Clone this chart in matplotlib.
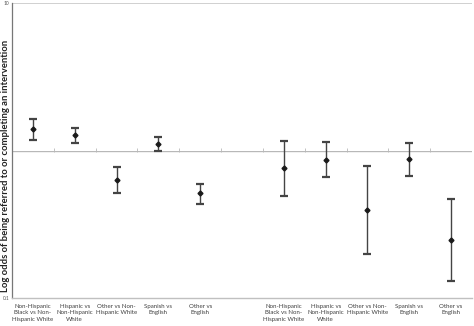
import matplotlib
matplotlib.use("Agg")
import matplotlib.pyplot as plt
import numpy as np

# Odds ratios with 95% confidence limits, two groups of five comparisons
categories = [
    "Non-Hispanic\nBlack vs Non-\nHispanic White",
    "Hispanic vs\nNon-Hispanic\nWhite",
    "Other vs Non-\nHispanic White",
    "Spanish vs\nEnglish",
    "Other vs\nEnglish",
    "",
    "Non-Hispanic\nBlack vs Non-\nHispanic White",
    "Hispanic vs\nNon-Hispanic\nWhite",
    "Other vs Non-\nHispanic White",
    "Spanish vs\nEnglish",
    "Other vs\nEnglish",
]
odds = [1.39, 1.27, 0.634, 1.107, 0.513, None, 0.757, 0.866, 0.393, 0.876, 0.248]
upper = [1.64, 1.43, 0.77, 1.234, 0.595, None, 1.165, 1.14, 0.782, 1.12, 0.471]
lower = [1.17, 1.13, 0.513, 0.997, 0.432, None, 0.49, 0.658, 0.198, 0.672, 0.131]
ytick_values = [0.1, 10]
ytick_labels = ["0.1", "10"]
ylabel = "Log odds of being referred to or completing an intervention"

plt.rcParams["font.family"] = ["Lato", "DejaVu Sans"]

fig = plt.figure(figsize=(4.74, 3.26), dpi=100)
ax = fig.add_axes([12 / 474, 28 / 326, 460 / 474, 295 / 326])

idx = [i for i, v in enumerate(odds) if v is not None]
x = np.array(idx, dtype=float)
y = np.array([odds[i] for i in idx])
yerr = np.array([[odds[i] - lower[i] for i in idx],
                 [upper[i] - odds[i] for i in idx]])

ax.errorbar(x, y, yerr=yerr, fmt="D", color="#1a1a1a", ecolor="#444444",
            elinewidth=1.0, capsize=3.2, capthick=1.6, markersize=2.5)

ax.set_yscale("log")
ax.set_ylim(0.1, 10)
ax.set_xlim(-0.5, len(categories) - 0.5)

ax.set_yticks(ytick_values)
ax.set_yticklabels(ytick_labels)
ax.yaxis.set_minor_locator(matplotlib.ticker.NullLocator())
ax.tick_params(axis="y", length=0, labelsize=3.5, labelcolor="#555555", pad=2)

ax.set_xticks(range(len(categories)))
ax.set_xticklabels(categories)
ax.tick_params(axis="x", length=0, labelsize=4.4, labelcolor="#404040", pad=4)
for lbl in ax.get_xticklabels():
    lbl.set_linespacing(1.45)

# gridline at the top value
ax.axhline(10, color="#c8c8c8", linewidth=1.2, zorder=0)

# category axis crossing at 1
ax.axhline(1, color="#b8b8b8", linewidth=1.0, zorder=0)
sec = ax.secondary_xaxis(1, transform=ax.transData)
sec.set_xticks(np.arange(0.5, len(categories) - 0.5, 1.0))
sec.set_xticklabels([])
sec.tick_params(axis="x", direction="inout", length=3, width=0.6, color="#b8b8b8")
sec.spines["bottom"].set_visible(False)
sec.spines["top"].set_visible(False)

for side in ["top", "right"]:
    ax.spines[side].set_visible(False)
ax.spines["left"].set_color("#777777")
ax.spines["left"].set_linewidth(0.9)
ax.spines["bottom"].set_color("#c0c0c0")
ax.spines["bottom"].set_linewidth(1.0)

fig.text(6 / 474, 1 - 166 / 326, ylabel, rotation=90, ha="center", va="center",
         fontsize=6.8, fontweight="bold", color="#222222")

fig.savefig("out.png", dpi=100)
